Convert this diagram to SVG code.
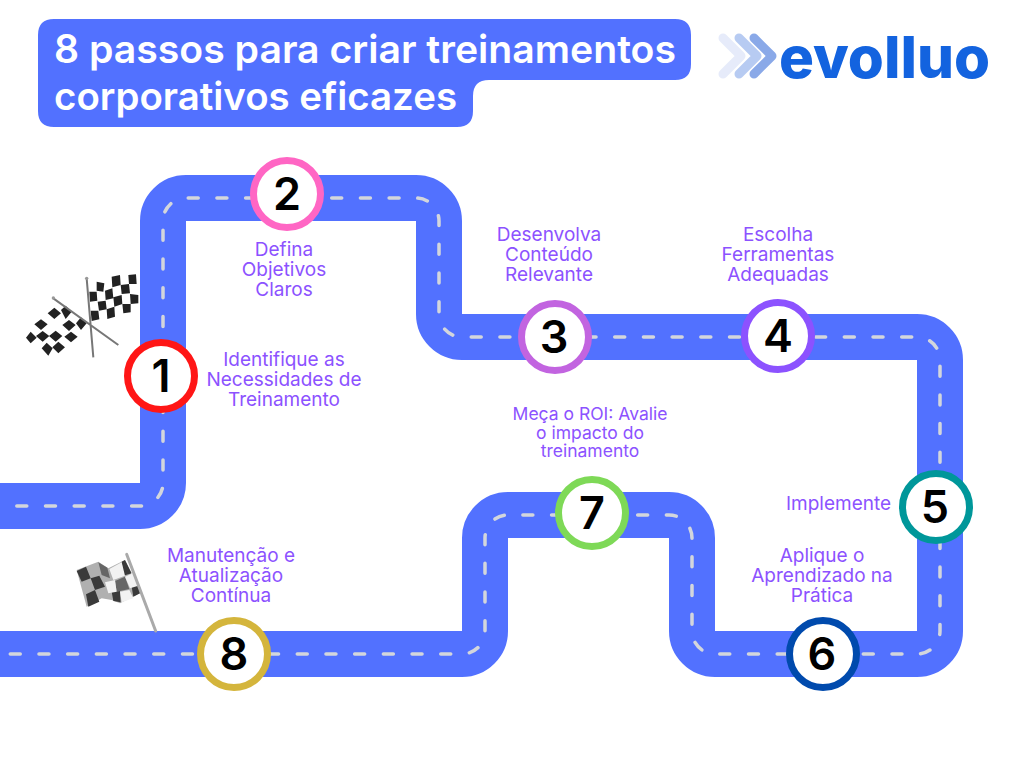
<svg xmlns="http://www.w3.org/2000/svg" width="1024" height="768" viewBox="0 0 1024 768">
<style>
.road{fill:none;stroke:#5271ff;stroke-width:46}
.dash{fill:none;stroke:#d3d6dc;stroke-width:3.5;stroke-linecap:round;stroke-dasharray:10 18.700;stroke-dashoffset:11.900}
.ring{fill:#fff;stroke-width:7}
.num{font:600 45px "Inter","Liberation Sans",sans-serif;text-anchor:middle;fill:#000}
.lab{font:400 19px "Inter","Liberation Sans",sans-serif;text-anchor:middle;fill:#8c52ff}
.lab2{font-size:17.5px}
.ttl{font:600 39px "Inter","Liberation Sans",sans-serif;fill:#fff}
.chk{fill:#222}
.pole{stroke:#777;fill:none}
</style>
<rect width="1024" height="768" fill="#fff"/>
<g id="title">
<path d="M54 19H675Q691 19 691 35V64Q691 80 675 80H489Q473 80 473 96V111Q473 127 457 127H54Q38 127 38 111V35Q38 19 54 19Z" fill="#5271ff"/>
<text class="ttl"><tspan x="54" y="63" textLength="622" lengthAdjust="spacingAndGlyphs">8 passos para criar treinamentos</tspan><tspan x="54" y="110" textLength="403" lengthAdjust="spacingAndGlyphs">corporativos eficazes</tspan></text>
</g>
<g id="logo">
<path d="M723 38L741 56L723 74" fill="none" stroke="#e6ebfa" stroke-width="9" stroke-linecap="round" stroke-linejoin="round"/>
<path d="M739 38L757 56L739 74" fill="none" stroke="#b7cbf2" stroke-width="9" stroke-linecap="round" stroke-linejoin="round"/>
<path d="M754 38L772 56L754 74" fill="none" stroke="#8aa9e8" stroke-width="9" stroke-linecap="round" stroke-linejoin="round"/>
<text x="779" y="78" textLength="211" lengthAdjust="spacingAndGlyphs" font-family="Inter,'Liberation Sans',sans-serif" font-weight="800" font-size="58" fill="#1363df">evolluo</text>
</g>
<g id="connectors">
<path id="road" class="road" d="M0 506H140A23 23 0 0 0 163 483V221A23 23 0 0 1 186 198H416A23 23 0 0 1 439 221V314A23 23 0 0 0 462 337H917A23 23 0 0 1 940 360V631A23 23 0 0 1 917 654H715A23 23 0 0 1 692 631V538A23 23 0 0 0 669 515H508A23 23 0 0 0 485 538V631A23 23 0 0 1 462 654H0"/>
<path id="lane" class="dash" d="M0 506H140A23 23 0 0 0 163 483V221A23 23 0 0 1 186 198H416A23 23 0 0 1 439 221V314A23 23 0 0 0 462 337H917A23 23 0 0 1 940 360V631A23 23 0 0 1 917 654H715A23 23 0 0 1 692 631V538A23 23 0 0 0 669 515H508A23 23 0 0 0 485 538V631A23 23 0 0 1 462 654H0"/>
</g>
<g id="flags-start">
<g class="chk" transform="translate(0,260) scale(.33333)">
<path d="M290 65L313 70L310 95L290 92ZM335 50L360 45L362 75L337 82ZM385 45L408 43L410 72L387 72ZM268 95L290 95L292 122L270 125ZM315 92L337 85L340 115L317 120ZM362 75L387 72L390 100L365 102ZM293 125L317 122L320 148L297 152ZM340 112L365 105L367 132L343 140ZM390 102L415 105L415 130L392 132ZM272 152L295 152L298 178L275 183ZM320 148L343 140L345 170L322 177ZM367 132L392 132L392 157L370 160Z"/>
<path d="M143 160L163 143L183 160L163 177ZM183 150L197 137L215 155L197 177ZM228 190L243 172L260 190L243 210ZM103 193L123 178L143 193L123 210ZM187 195L207 180L227 195L207 213ZM147 228L167 212L187 228L167 245ZM108 228L128 213L148 228L128 245ZM78 233L92 215L110 233L92 250ZM193 230L213 215L233 230L213 247ZM125 265L140 248L158 265L145 287ZM157 262L175 245L195 262L175 280Z"/>
<path class="pole" stroke-width="6" d="M160 115L355 255M260 55L280 292"/>
<circle cx="160" cy="114" r="5" fill="#999"/><circle cx="260" cy="55" r="5" fill="#999"/>
</g>
</g>
<g id="flag-end" transform="translate(70,545) scale(.33333)">
<path d="M20 75L85 50L115 70L165 45L210 145L150 175L125 165L95 160L50 185Z" fill="#b0b0b0"/>
<path fill="#3a3a3a" d="M20 78L48 65L62 100L35 110ZM62 100L88 92L105 125L75 135ZM48 148L75 135L88 170L55 185ZM155 50L165 45L185 85L160 92ZM185 125L208 120L210 145L190 155ZM125 140L150 138L152 172L130 168Z"/>
<path fill="#666" d="M85 52L112 68L120 100L95 90ZM135 108L165 95L178 132L140 140Z"/>
<path fill="#f2f2f2" d="M118 72L155 52L165 92L130 105ZM105 112L135 105L140 140L115 145ZM165 95L188 85L205 122L180 130ZM150 140L178 135L190 160L155 172Z"/>
<path d="M170 28L257 258" stroke="#aaa" stroke-width="9" fill="none" stroke-linecap="round"/>
</g>
<g id="node1"><circle class="ring" cx="161" cy="376" r="33.500" stroke="#ff1616"/><text class="num" x="161" y="392">1</text></g>
<g id="node2"><circle class="ring" cx="287" cy="194" r="33.500" stroke="#ff66c4"/><text class="num" x="287" y="210">2</text></g>
<g id="node3"><circle class="ring" cx="555" cy="337" r="33.500" stroke="#c264e0"/><text class="num" x="554" y="353">3</text></g>
<g id="node4"><circle class="ring" cx="778" cy="336" r="33.500" stroke="#8c52ff"/><text class="num" x="778" y="352">4</text></g>
<g id="node5"><circle class="ring" cx="936" cy="507" r="33.500" stroke="#00979a"/><text class="num" x="935" y="523">5</text></g>
<g id="node6"><circle class="ring" cx="823" cy="654" r="33.500" stroke="#004aad"/><text class="num" x="822" y="670">6</text></g>
<g id="node7"><circle class="ring" cx="592" cy="513" r="33.500" stroke="#7ed957"/><text class="num" x="592" y="529">7</text></g>
<g id="node8"><circle class="ring" cx="234" cy="654" r="33.500" stroke="#d4b53c"/><text class="num" x="234" y="670">8</text></g>
<g id="labels">
<text class="lab"><tspan x="284" y="366">Identifique as</tspan><tspan x="284" y="386">Necessidades de</tspan><tspan x="284" y="406">Treinamento</tspan></text>
<text class="lab"><tspan x="284" y="256">Defina</tspan><tspan x="284" y="276">Objetivos</tspan><tspan x="284" y="296">Claros</tspan></text>
<text class="lab"><tspan x="549" y="241">Desenvolva</tspan><tspan x="549" y="261">Conteúdo</tspan><tspan x="549" y="281">Relevante</tspan></text>
<text class="lab"><tspan x="778" y="241">Escolha</tspan><tspan x="778" y="261">Ferramentas</tspan><tspan x="778" y="281">Adequadas</tspan></text>
<text class="lab" x="838.500" y="510">Implemente</text>
<text class="lab"><tspan x="822" y="562">Aplique o</tspan><tspan x="822" y="582">Aprendizado na</tspan><tspan x="822" y="602">Prática</tspan></text>
<text class="lab lab2"><tspan x="590" y="420">Meça o ROI: Avalie</tspan><tspan x="590" y="438.500">o impacto do</tspan><tspan x="590" y="457">treinamento</tspan></text>
<text class="lab"><tspan x="231" y="562">Manutenção e</tspan><tspan x="231" y="582">Atualização</tspan><tspan x="231" y="602">Contínua</tspan></text>
</g>
</svg>
